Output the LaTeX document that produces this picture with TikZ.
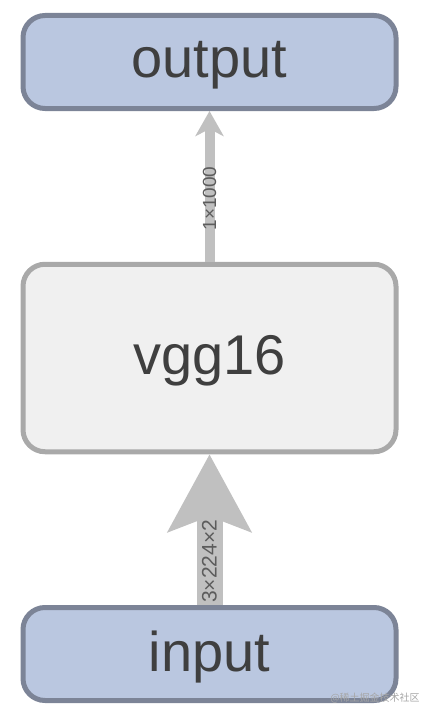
\documentclass[tikz,border=0pt]{standalone}
\usepackage{fontspec}
\setmainfont{Liberation Sans}
\newfontfamily\cjk{Noto Sans CJK SC}
\usetikzlibrary{arrows.meta}
\definecolor{bluefill}{HTML}{BAC7E0}
\definecolor{bluedraw}{HTML}{7C8497}
\definecolor{grayfill}{HTML}{F0F0F0}
\definecolor{graydraw}{HTML}{A9A9A9}
\definecolor{txt}{HTML}{3F3F3F}
\definecolor{lbl}{HTML}{5C5C5C}
\definecolor{arr}{HTML}{C0C0C0}
\newcommand{\boxtext}[1]{\raisebox{-3pt}[\height][\depth]{#1}}
\tikzset{
  iobox/.style={draw=bluedraw, fill=bluefill, line width=5pt, rounded corners=22pt,
    minimum width=373pt, minimum height=93pt, inner sep=0pt, text=txt,
    font=\fontsize{56}{60}\selectfont},
  netbox/.style={draw=graydraw, fill=grayfill, line width=5pt, rounded corners=22pt,
    minimum width=373pt, minimum height=187.5pt, inner sep=0pt, text=txt,
    font=\fontsize{56}{60}\selectfont},
  lbltext/.style={text=lbl, inner sep=0pt, rotate=90},
}
\begin{document}
\begin{tikzpicture}[x=1pt,y=-1pt]
\useasboundingbox (0,0) rectangle (427,717);
\node[iobox] (output) at (209.5,62) {\boxtext{output}};
\node[netbox] (vgg) at (209.5,358) {\boxtext{vgg16}};
\node[iobox] (input) at (209.5,654) {\boxtext{input}};
\draw[arr, line width=10pt, -{Stealth[length=25pt,width=28pt,inset=7pt]}] (vgg.north) -- (output.south)
  node[lbltext, pos=0.42, font=\fontsize{19}{20}\selectfont] (l1) {1×1000};
\draw[arr, line width=26pt, -{Stealth[length=77pt,width=82pt,inset=15pt]}] (input.north) -- (vgg.south)
  node[lbltext, pos=0.29, font=\fontsize{21}{22}\selectfont] (l2) {3×224×2};
\node[text=black!35, inner sep=0pt, font=\cjk\fontsize{10}{12}\selectfont] (wm) at (375,698) {@稀土掘金技术社区};
\end{tikzpicture}
\end{document}
